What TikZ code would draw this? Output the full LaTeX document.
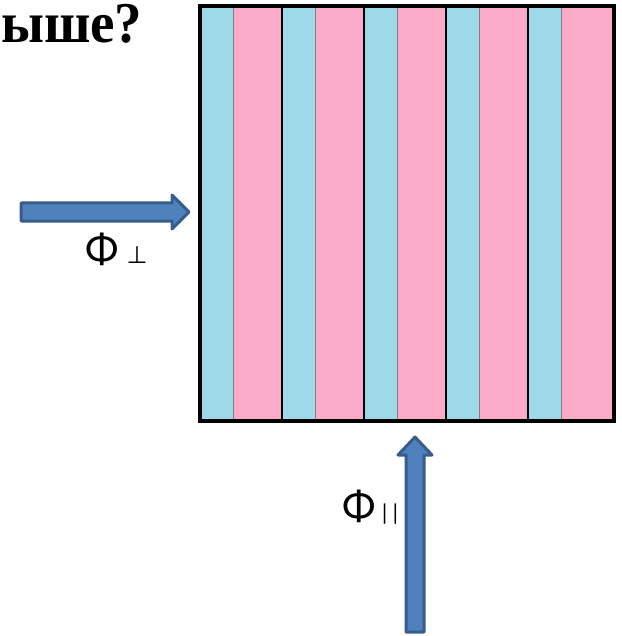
\documentclass[tikz,border=0pt]{standalone}
\usepackage{fontspec}
\setmainfont{Liberation Serif}
\newfontfamily\labelfont{Carlito}
\newfontfamily\symfont{DejaVu Sans}
\definecolor{stripeblue}{HTML}{9DD9E9}
\definecolor{stripepink}{HTML}{FBABC7}
\definecolor{arrowfill}{HTML}{4F81BD}
\definecolor{arrowedge}{HTML}{385D8A}
\tikzset{
  fluxarrow/.style={fill=arrowfill, draw=arrowedge, line width=3pt, line join=round},
  fluxlabel/.style={font=\labelfont\fontsize{44}{44}\selectfont, inner sep=0pt, anchor=base west},
}
\begin{document}
\begin{tikzpicture}[x=1pt, y=-1pt]
  \useasboundingbox (0,0) rectangle (621,636);
  % title fragment
  \node[anchor=base west, inner sep=0pt, font=\bfseries\fontsize{55}{55}\selectfont] (title) at (1,43) {\scalebox{1}[1.05]{ыше?}};
  % layered sample
  \fill[stripepink] (200,6) rectangle (614,421);
  \foreach \x in {200,282,364,446,528} {
    \fill[stripeblue] (\x,6) rectangle (\x+33,421);
    \draw[gray, line width=0.8pt] (\x+33,6) -- (\x+33,421);
  }
  \foreach \x in {282,364,446,528}
    \draw[line width=1.5pt] (\x,6) -- (\x,421);
  \draw[line width=3.5pt] (200,6) rectangle (614,421);
  % flux across the layers
  \filldraw[fluxarrow] (21,203) -- (172,203) -- (172,195) -- (189,212)
    -- (172,229) -- (172,221) -- (21,221) -- cycle;
  \node[fluxlabel] (phiperp) at (85,263) {Φ{\symfont\fontsize{24}{24}\selectfont\,\,⊥}};
  % flux along the layers
  \filldraw[fluxarrow] (406,632) -- (406,455) -- (398,455) -- (415,437)
    -- (432,455) -- (424,455) -- (424,632) -- cycle;
  \node[fluxlabel] (phipar) at (342,520) {Φ{\fontsize{23}{23}\selectfont\,||}};
\end{tikzpicture}
\end{document}
